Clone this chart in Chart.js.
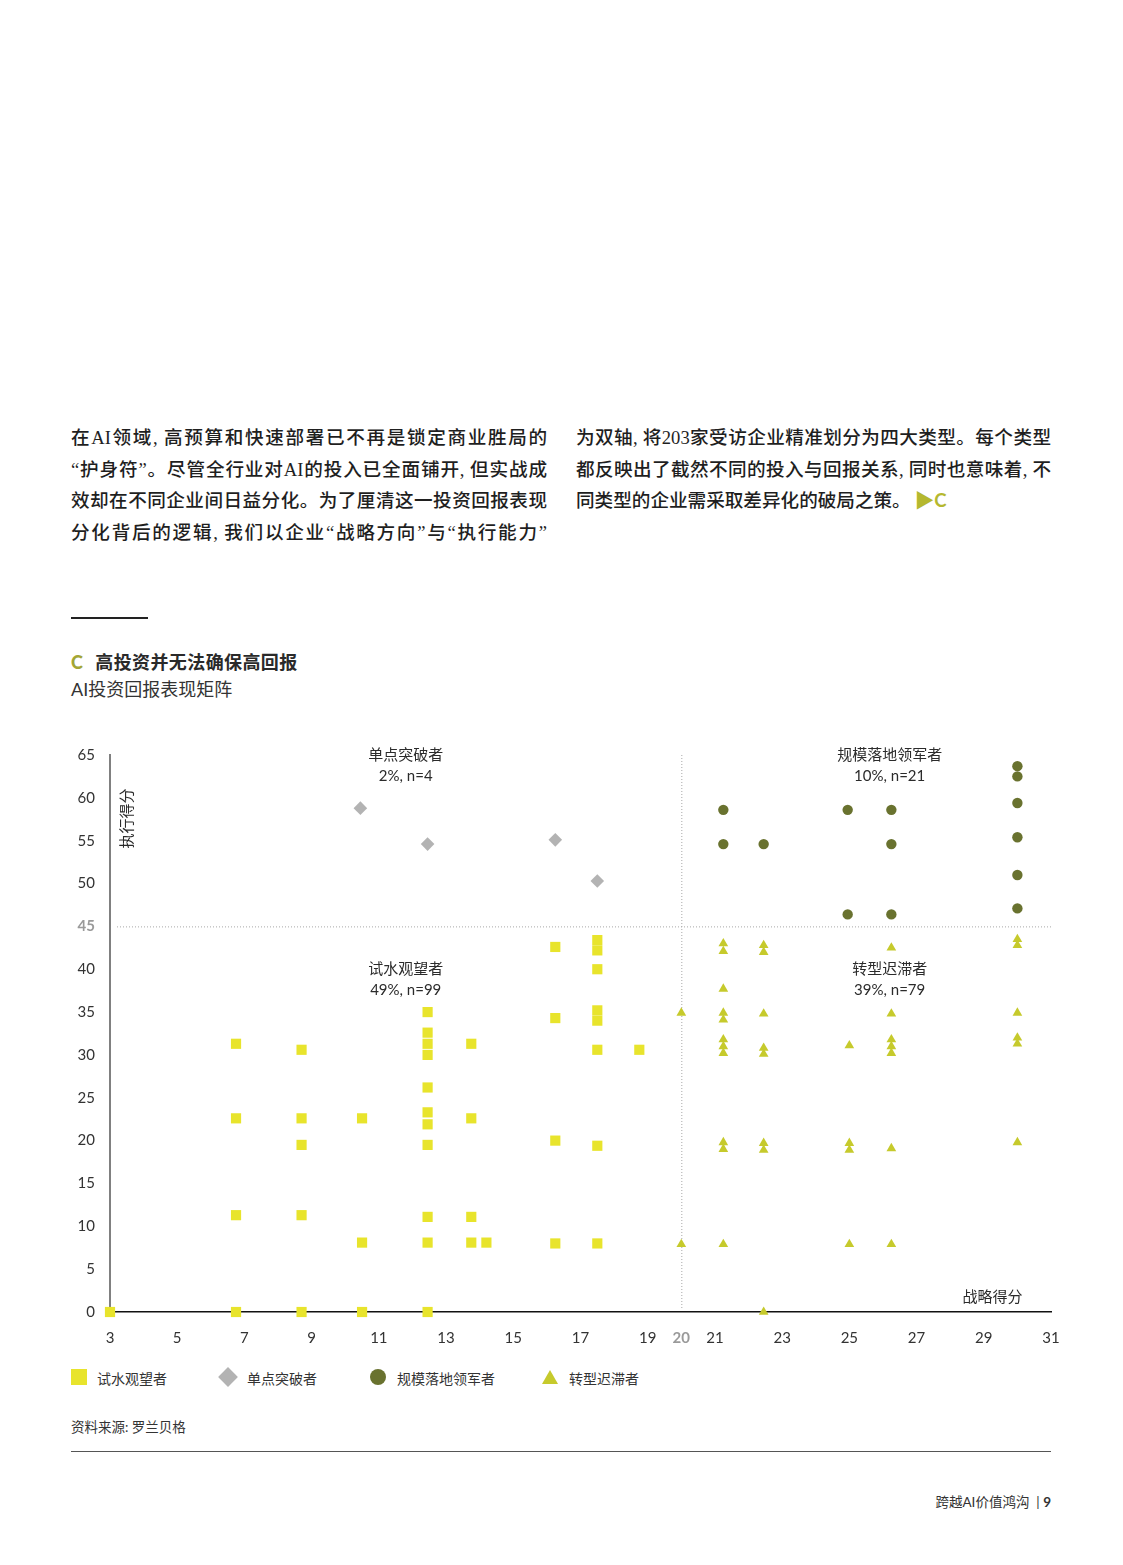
<!DOCTYPE html>
<html lang="zh-CN">
<head>
<meta charset="utf-8">
<title>AI投资回报表现矩阵</title>
<script src="https://cdn.jsdelivr.net/npm/chart.js@4.4.1/dist/chart.umd.min.js"></script>
<style>
  html, body { margin: 0; padding: 0; background: #fff; }
  body {
    width: 1123px; height: 1565px; position: relative; overflow: hidden;
    font-family: Lato, 'Noto Sans CJK SC', sans-serif; color: #2b2b2b;
  }
  .para {
    position: absolute; top: 422px; width: 476px;
    font-family: 'Liberation Serif', 'Noto Sans CJK SC', serif;
    font-size: 18.6px; line-height: 31.7px; color: #1f1f1f; font-weight: 500;
  }
  .para div { text-align: justify; text-align-last: justify; white-space: nowrap; }
  .para div.last { text-align-last: left; }
  .accent { color: #B5B82F; font-family: Lato, sans-serif; font-weight: 700; }
  .rule { position: absolute; left: 71px; top: 617px; width: 77px; height: 2px; background: #222; }
  .title { position: absolute; left: 71px; top: 648px; font-size: 18px; font-weight: 700; color: #2a2a2a; letter-spacing: 0.4px; }
  .title .c { color: #A3A635; margin-right: 12px; font-family: Lato, sans-serif; font-weight: 900; }
  .subtitle { position: absolute; left: 71px; top: 675px; font-size: 18px; color: #333; }
  #chartBox { position: absolute; left: 60px; top: 740px; width: 1010px; height: 620px; }
  .legend { position: absolute; top: 1367px; left: 0; height: 20px; font-size: 14px; color: #333; }
  .legend span { position: absolute; top: 1px; white-space: nowrap; }
  .mk { position: absolute; }
  .source { position: absolute; left: 71px; top: 1416px; font-size: 13.5px; color: #333; }
  .bottomRule { position: absolute; left: 71px; top: 1451px; width: 980px; height: 1px; background: #555; }
  .footer { position: absolute; right: 72px; top: 1491px; font-size: 13.5px; color: #333; }
  .footer b { font-weight: 700; }
</style>
</head>
<body>

<div class="para" style="left:71px">
  <div>在AI领域, 高预算和快速部署已不再是锁定商业胜局的</div>
  <div>“护身符”。尽管全行业对AI的投入已全面铺开, 但实战成</div>
  <div>效却在不同企业间日益分化。为了厘清这一投资回报表现</div>
  <div>分化背后的逻辑, 我们以企业“战略方向”与“执行能力”</div>
</div>
<div class="para" style="left:576px; width:475px">
  <div>为双轴, 将203家受访企业精准划分为四大类型。每个类型</div>
  <div>都反映出了截然不同的投入与回报关系, 同时也意味着, 不</div>
  <div class="last">同类型的企业需采取差异化的破局之策。 <span class="accent">▶C</span></div>
</div>

<div class="rule"></div>
<div class="title"><span class="c">C</span>高投资并无法确保高回报</div>
<div class="subtitle">AI投资回报表现矩阵</div>

<div id="chartBox"><canvas id="matrix"></canvas></div>

<div class="legend">
  <div class="mk" style="left:71px; top:2px; width:16px; height:16px; background:#E8E42C"></div>
  <span style="left:97px">试水观望者</span>
  <div class="mk" style="left:221px; top:3px; width:14px; height:14px; background:#B3B3B3; transform:rotate(45deg)"></div>
  <span style="left:247px">单点突破者</span>
  <div class="mk" style="left:370px; top:2px; width:16px; height:16px; border-radius:50%; background:#69722F"></div>
  <span style="left:397px">规模落地领军者</span>
  <div class="mk" style="left:542px; top:3px; width:0; height:0; border-left:8px solid transparent; border-right:8px solid transparent; border-bottom:14px solid #C6CA2C"></div>
  <span style="left:569px">转型迟滞者</span>
</div>

<div class="source">资料来源: 罗兰贝格</div>
<div class="bottomRule"></div>
<div class="footer">跨越AI价值鸿沟 &nbsp;|&nbsp;<b>9</b></div>

<script>
// axis setup
const xTicks = [3, 5, 7, 9, 11, 13, 15, 17, 19, 20, 21, 23, 25, 27, 29, 31];
const xMin = 3, xMax = 31;
const yMin = 0, yMax = 65, yStep = 5;
const strategyCut = 20;   // vertical split
const executionCut = 45;  // horizontal split

// 试水观望者 (x = 战略得分, y = 执行得分)
const watchers = [
  [3, 0],
  [6.75, 31.3], [6.75, 22.6], [6.75, 11.3], [6.75, 0],
  [8.7, 30.6], [8.7, 22.6], [8.7, 19.5], [8.7, 11.3], [8.7, 0],
  [10.5, 22.6], [10.5, 8.1], [10.5, 0],
  [12.45, 35], [12.45, 32.6], [12.45, 31.3], [12.45, 30], [12.45, 26.2], [12.45, 23.3],
  [12.45, 21.9], [12.45, 19.5], [12.45, 11.1], [12.45, 8.1], [12.45, 0],
  [13.75, 31.3], [13.75, 22.6], [13.75, 11.1], [13.75, 8.1],
  [14.2, 8.1],
  [16.25, 42.6], [16.25, 34.3], [16.25, 20], [16.25, 8.0],
  [17.5, 43.4], [17.5, 42.2], [17.5, 40], [17.5, 35.2], [17.5, 34], [17.5, 30.6], [17.5, 19.4], [17.5, 8.0],
  [18.75, 30.6]
];

// 单点突破者
const breakthroughs = [[10.45, 58.8], [12.45, 54.6], [16.25, 55.1], [17.5, 50.3]];

// 规模落地领军者
const leaders = [
  [21.25, 58.6], [21.25, 54.6],
  [22.45, 54.6],
  [24.95, 58.6], [24.95, 46.4],
  [26.25, 58.6], [26.25, 54.6], [26.25, 46.4],
  [30, 63.7], [30, 62.5], [30, 59.4], [30, 55.4], [30, 51.0], [30, 47.1]
];

// 转型迟滞者
const laggards = [
  [20, 34.9], [20, 7.9],
  [21.25, 43.0], [21.25, 42.1], [21.25, 37.7], [21.25, 34.9], [21.25, 34.1],
  [21.25, 31.8], [21.25, 31.0], [21.25, 30.2], [21.25, 19.8], [21.25, 19.0], [21.25, 7.9],
  [22.45, 42.8], [22.45, 42.0], [22.45, 34.8], [22.45, 30.8], [22.45, 30.1], [22.45, 19.7], [22.45, 18.9], [22.45, 0],
  [25, 31.1], [25, 19.7], [25, 18.9], [25, 7.9],
  [26.25, 42.5], [26.25, 34.8], [26.25, 31.8], [26.25, 31.0], [26.25, 30.2], [26.25, 19.1], [26.25, 7.9],
  [30, 43.5], [30, 42.8], [30, 34.9], [30, 32.0], [30, 31.3], [30, 19.8]
];

// quadrant captions: [x, y, name, share]
const quadrantLabels = [
  [11.8, 65, '单点突破者', '2%, n=4'],
  [26.2, 65, '规模落地领军者', '10%, n=21'],
  [11.8, 40, '试水观望者', '49%, n=99'],
  [26.2, 40, '转型迟滞者', '39%, n=79']
];

const FONT = "Lato, 'Noto Sans CJK SC', sans-serif";
const toPoints = arr => arr.map(p => ({ x: p[0], y: p[1] }));

// dotted split lines + text inside the plot
const matrixOverlay = {
  id: 'matrixOverlay',
  beforeDatasetsDraw(chart) {
    const { ctx, chartArea, scales: { x, y } } = chart;
    const px = x.getPixelForValue(strategyCut);
    const py = y.getPixelForValue(executionCut);
    ctx.save();
    ctx.strokeStyle = '#A8A8A8';
    ctx.lineWidth = 1;
    ctx.setLineDash([1, 2]);
    ctx.beginPath();
    ctx.moveTo(chartArea.left + 7, py + 0.5);
    ctx.lineTo(chartArea.right, py + 0.5);
    ctx.moveTo(px + 0.5, chartArea.top);
    ctx.lineTo(px + 0.5, chartArea.bottom - 4);
    ctx.stroke();
    ctx.restore();
  },
  afterDraw(chart) {
    const { ctx, chartArea, scales: { x, y } } = chart;
    ctx.save();
    ctx.fillStyle = '#2b2b2b';
    ctx.textAlign = 'center';
    ctx.textBaseline = 'middle';
    ctx.font = '15px ' + FONT;
    quadrantLabels.forEach(q => {
      const cx = x.getPixelForValue(q[0]);
      const cy = y.getPixelForValue(q[1]);
      ctx.fillText(q[2], cx, cy);
      ctx.fillText(q[3], cx, cy + 21);
    });
    // axis titles
    ctx.font = '15px ' + FONT;
    ctx.textAlign = 'right';
    ctx.fillText('战略得分', x.getPixelForValue(30.15), chartArea.bottom - 15);
    ctx.translate(chartArea.left + 17, y.getPixelForValue(57.6));
    ctx.rotate(-Math.PI / 2);
    ctx.textAlign = 'center';
    ctx.fillText('执行得分', 0, 0);
    ctx.restore();
  }
};

new Chart(document.getElementById('matrix'), {
  type: 'scatter',
  data: {
    datasets: [
      { label: '试水观望者', data: toPoints(watchers), pointStyle: 'rect', pointRadius: 7.2,
        backgroundColor: '#E8E42C', borderWidth: 0, clip: false },
      { label: '单点突破者', data: toPoints(breakthroughs), pointStyle: 'rectRot', pointRadius: 6.8,
        backgroundColor: '#B3B3B3', borderWidth: 0, clip: false },
      { label: '规模落地领军者', data: toPoints(leaders), pointStyle: 'circle', pointRadius: 5.2,
        backgroundColor: '#69722F', borderWidth: 0, clip: false },
      { label: '转型迟滞者', data: toPoints(laggards), pointStyle: 'triangle', pointRadius: 5.6,
        backgroundColor: '#C6CA2C', borderWidth: 0, clip: false }
    ]
  },
  options: {
    responsive: true,
    maintainAspectRatio: false,
    animation: false,
    events: [],
    layout: { padding: { top: 15, right: 19, left: 0, bottom: 0 } },
    plugins: { legend: { display: false }, tooltip: { enabled: false } },
    scales: {
      x: {
        type: 'linear', min: xMin, max: xMax,
        afterBuildTicks: scale => { scale.ticks = xTicks.map(v => ({ value: v })); },
        afterFit: scale => { scale.height = 48; scale.paddingLeft = 0; scale.paddingRight = 0; },
        grid: { display: false, drawTicks: false },
        border: { display: true, color: '#111', width: 1.5 },
        ticks: {
          padding: 17,
          autoSkip: false,
          maxRotation: 0,
          color: ctx => ctx.tick.value === strategyCut ? '#9A9A9A' : '#333',
          font: ctx => ({ family: FONT, size: 15, weight: ctx.tick && ctx.tick.value === strategyCut ? 'bold' : 'normal' })
        }
      },
      y: {
        type: 'linear', min: yMin, max: yMax,
        afterFit: scale => { scale.width = 50; scale.paddingTop = 0; scale.paddingBottom = 0; },
        grid: { display: false, drawTicks: false },
        border: { display: true, color: '#808080', width: 2 },
        ticks: {
          stepSize: yStep,
          padding: 15,
          color: ctx => ctx.tick.value === executionCut ? '#9A9A9A' : '#333',
          font: ctx => ({ family: FONT, size: 15, weight: ctx.tick && ctx.tick.value === executionCut ? 'bold' : 'normal' })
        }
      }
    }
  },
  plugins: [matrixOverlay]
});
</script>
</body>
</html>
